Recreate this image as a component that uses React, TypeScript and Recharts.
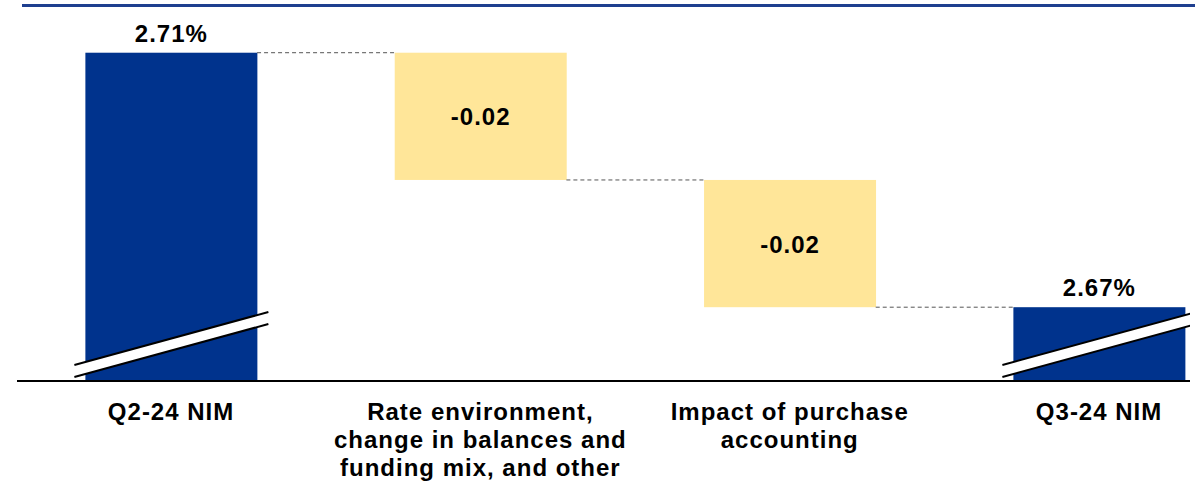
import React from 'react';
import { BarChart, Bar, XAxis, YAxis, Cell, LabelList, ReferenceLine } from 'recharts';

const categoryLines = [
  ['Q2-24 NIM'],
  ['Rate environment,', 'change in balances and', 'funding mix, and other'],
  ['Impact of purchase', 'accounting'],
  ['Q3-24 NIM'],
];
const totals = [2.71, null, null, 2.67];
const changes = [null, -0.02, -0.02, null];
const valueLabels = ['2.71%', '-0.02', '-0.02', '2.67%'];

const yMin = 2.6584;
const yMax = 2.7175;
const NAVY = '#00338D';
const YELLOW = '#FFE699';
const FONT = '"Liberation Sans", Arial, sans-serif';

// running level for the waterfall
let level = 0;
const data = categoryLines.map((lines, i) => {
  const isTotal = totals[i] !== null;
  let low: number;
  let high: number;
  let end: number;
  if (isTotal) {
    level = totals[i] as number;
    low = yMin;
    high = level;
    end = level;
  } else {
    const next = level + (changes[i] as number);
    low = Math.min(level, next);
    high = Math.max(level, next);
    level = next;
    end = next;
  }
  return { idx: i, range: [low, high], end, isTotal, label: valueLabels[i], lines };
});

const halfBar = 86 / 309.33;

const BarShape = (props: any) => {
  const { x, y, width, height, fill, payload } = props;
  const bottom = y + height;
  const x0 = x - 11;
  const x1 = x + width + 11;
  return (
    <g>
      <rect x={x} y={y} width={width} height={height} fill={fill} />
      {payload.isTotal && (
        <g>
          <polygon
            points={`${x0},${bottom - 4} ${x1},${bottom - 57} ${x1},${bottom - 69} ${x0},${bottom - 16}`}
            fill="#fff"
          />
          <line x1={x0} y1={bottom - 4} x2={x1} y2={bottom - 57} stroke="#000" strokeWidth={2} />
          <line x1={x0} y1={bottom - 16} x2={x1} y2={bottom - 69} stroke="#000" strokeWidth={2} />
        </g>
      )}
    </g>
  );
};

const ValueLabel = (props: any) => {
  const { x, y, width, height, value, index } = props;
  const isTotal = data[index].isTotal;
  const cx = x + width / 2;
  const cy = isTotal ? y - 11 : y + height / 2 + 9;
  return (
    <text x={cx} y={cy} textAnchor="middle" fontFamily={FONT} fontWeight="bold" fontSize={24} letterSpacing={1} fill="#000">
      {value}
    </text>
  );
};

const CategoryTick = (props: any) => {
  const { x, y, payload } = props;
  const lines = categoryLines[payload.value] || [];
  return (
    <text x={x} y={y + 31} textAnchor="middle" fontFamily={FONT} fontWeight="bold" fontSize={24} letterSpacing={1} fill="#000">
      {lines.map((l, i) => (
        <tspan key={i} x={x} dy={i === 0 ? 0 : 28}>
          {l}
        </tspan>
      ))}
    </text>
  );
};

const App: React.FC = () => {
  return (
    <div style={{ position: 'absolute', left: 0, top: 0, width: 1195, height: 487, background: '#fff' }}>
      <div style={{ position: 'absolute', left: 22, top: 4, width: 1173, height: 3, background: '#1E3F8F' }} />
      <BarChart width={1195} height={487} data={data} margin={{ top: 5, right: 5, left: 17, bottom: 0 }}>
        <XAxis
          dataKey="idx"
          type="number"
          domain={[-0.498, 3.294]}
          allowDataOverflow
          ticks={[0, 1, 2, 3]}
          interval={0}
          tick={<CategoryTick />}
          tickLine={false}
          axisLine={{ stroke: '#000', strokeWidth: 2 }}
          height={106}
        />
        <YAxis hide domain={[yMin, yMax]} allowDataOverflow type="number" />
        {data.slice(0, -1).map((d, i) => (
          <ReferenceLine
            key={i}
            segment={[
              { x: i + halfBar, y: d.end },
              { x: i + 1 - halfBar, y: d.end },
            ]}
            stroke="#555"
            strokeDasharray="4 3"
            strokeWidth={1}
          />
        ))}
        <Bar dataKey="range" barSize={172} shape={<BarShape />} isAnimationActive={false}>
          {data.map((d, i) => (
            <Cell key={i} fill={d.isTotal ? NAVY : YELLOW} />
          ))}
          <LabelList dataKey="label" content={<ValueLabel />} />
        </Bar>
      </BarChart>
    </div>
  );
};

export default App;
